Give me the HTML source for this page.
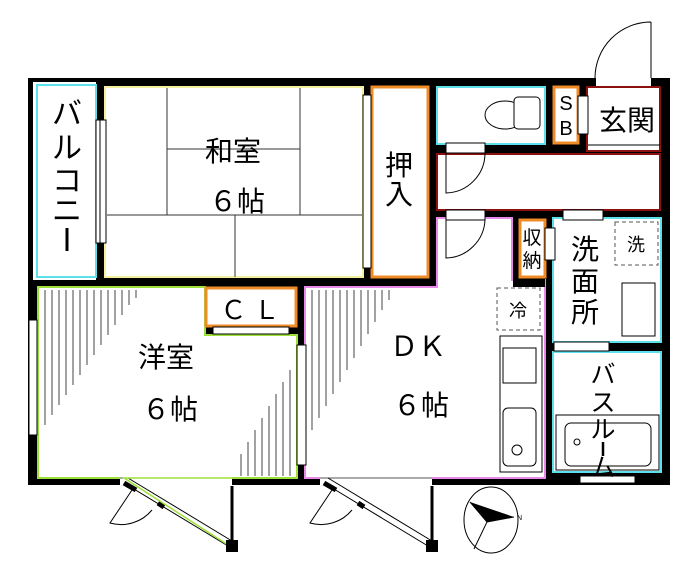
<!DOCTYPE html>
<html><head><meta charset="utf-8"><style>
html,body{margin:0;padding:0;background:#fff;width:700px;height:572px;overflow:hidden}
svg{display:block}
text{font-family:"Liberation Sans","Noto Sans CJK JP",sans-serif;fill:#000}
</style></head><body>
<svg width="700" height="572" viewBox="0 0 700 572" xmlns="http://www.w3.org/2000/svg">
<rect x="28" y="78" width="642" height="407" fill="#000"/>
<path d="M651 22 L651 78 M595 78 A56 56 0 0 1 651 22" fill="none" stroke="#000" stroke-width="1"/>
<rect x="596" y="78" width="55" height="8" fill="#fff"/>
<rect x="33" y="82" width="63" height="198" fill="#fff"/>
<rect x="37" y="85" width="59" height="192" fill="#fff" stroke="#5ee0ea" stroke-width="2"/>
<rect x="105" y="87" width="258" height="190" fill="#fff" stroke="#f3f0a0" stroke-width="2"/>
<g stroke="#333" stroke-width="1">
<line x1="167" y1="88" x2="167" y2="215"/><line x1="300" y1="88" x2="300" y2="215"/>
<line x1="167" y1="149" x2="300" y2="149"/><line x1="107" y1="215" x2="362" y2="215"/>
<line x1="235" y1="215" x2="235" y2="277"/></g>
<rect x="96" y="120" width="10" height="123" fill="#fff" stroke="#000"/>
<line x1="100" y1="120" x2="100" y2="243" stroke="#000"/>
<rect x="372" y="87" width="56" height="190" fill="#fff" stroke="#f08c28" stroke-width="3"/>
<rect x="363" y="95" width="8" height="173" fill="#fff" stroke="#000"/>
<rect x="437" y="87" width="108" height="57" fill="#fff" stroke="#5ee0ea" stroke-width="2"/>
<ellipse cx="505" cy="115" rx="20" ry="14" fill="#fff" stroke="#000"/>
<rect x="514" y="97" width="26" height="32" rx="4" fill="#fff" stroke="#000"/>
<rect x="554" y="87" width="24" height="56" fill="#fff" stroke="#f08c28" stroke-width="3"/>
<rect x="587" y="87" width="73" height="64" fill="#fff" stroke="#8b1010" stroke-width="2"/>
<line x1="588" y1="145" x2="660" y2="145" stroke="#000"/>
<rect x="578" y="96" width="10" height="38" fill="#fff" stroke="#000"/>
<rect x="437" y="154" width="223" height="56" fill="#fff" stroke="#8b1010" stroke-width="2"/>
<rect x="446" y="143" width="39" height="10" fill="#fff" stroke="#000"/>
<path d="M446 153 L446 193 A40 40 0 0 0 485 153" fill="none" stroke="#000"/>
<path d="M305 287 L437 287 L437 218 L512 218 L512 280 L545 280 L545 478 L305 478 Z" fill="#fff" stroke="#e88ae8" stroke-width="2"/>
<rect x="446" y="210" width="39" height="10" fill="#fff" stroke="#000"/>
<path d="M446 220 L446 258 A40 40 0 0 0 485 220" fill="none" stroke="#000"/>
<rect x="513" y="277" width="32" height="10" fill="#000"/>
<rect x="520" y="220" width="25" height="57" fill="#fff" stroke="#f08c28" stroke-width="3"/>
<rect x="553" y="218" width="108" height="124" fill="#fff" stroke="#5ee0ea" stroke-width="2"/>
<rect x="545" y="228" width="10" height="32" fill="#fff" stroke="#000"/>
<rect x="563" y="210" width="40" height="10" fill="#fff" stroke="#000"/>
<rect x="615" y="222" width="43" height="43" fill="none" stroke="#555" stroke-dasharray="4,3"/>
<rect x="622" y="283" width="33" height="53" fill="#fff" stroke="#000"/>
<rect x="553" y="352" width="108" height="120" fill="#fff" stroke="#5ee0ea" stroke-width="2"/>
<rect x="554" y="342" width="55" height="9" fill="#fff" stroke="#000"/>
<rect x="556" y="415" width="103" height="55" fill="#fff" stroke="#000"/>
<rect x="565" y="423" width="86" height="43" rx="6" fill="#fff" stroke="#000"/>
<circle cx="577" cy="442" r="3" fill="none" stroke="#000"/>
<rect x="580" y="476" width="55" height="7" fill="#fff" stroke="#000"/>
<rect x="497" y="288" width="43" height="42" fill="none" stroke="#555" stroke-dasharray="4,3"/>
<rect x="500" y="336" width="42" height="136" fill="#fff" stroke="#000"/>
<rect x="503" y="348" width="33" height="35" fill="#fff" stroke="#000"/>
<rect x="503" y="408" width="33" height="58" rx="5" fill="#fff" stroke="#000"/>
<circle cx="517" cy="450" r="5" fill="none" stroke="#000"/>
<path d="M38 287 L205 287 L205 335 L297 335 L297 478 L38 478 Z" fill="#fff" stroke="#9ee03a" stroke-width="2"/>
<rect x="206" y="288" width="90" height="38" fill="#fff" stroke="#f08c28" stroke-width="3"/>
<rect x="213" y="327" width="76" height="7" fill="#fff" stroke="#000"/>
<rect x="29" y="320" width="8" height="115" fill="#fff" stroke="#000"/>
<rect x="297" y="345" width="9" height="120" fill="#fff" stroke="#000"/>
<g stroke="#444" stroke-width="1">
<line x1="45" y1="290" x2="45" y2="425"/><line x1="52" y1="290" x2="52" y2="415"/><line x1="59" y1="290" x2="59" y2="405"/><line x1="66" y1="290" x2="66" y2="395"/><line x1="73" y1="290" x2="73" y2="385"/><line x1="80" y1="290" x2="80" y2="375"/><line x1="87" y1="290" x2="87" y2="365"/><line x1="94" y1="290" x2="94" y2="355"/><line x1="101" y1="290" x2="101" y2="345"/><line x1="108" y1="290" x2="108" y2="335"/><line x1="115" y1="290" x2="115" y2="325"/><line x1="122" y1="290" x2="122" y2="315"/><line x1="129" y1="290" x2="129" y2="305"/><line x1="136" y1="290" x2="136" y2="298"/>
<line x1="290" y1="476" x2="290" y2="370"/><line x1="283" y1="476" x2="283" y2="382"/><line x1="276" y1="476" x2="276" y2="394"/><line x1="269" y1="476" x2="269" y2="406"/><line x1="262" y1="476" x2="262" y2="418"/><line x1="255" y1="476" x2="255" y2="430"/><line x1="248" y1="476" x2="248" y2="442"/><line x1="241" y1="476" x2="241" y2="454"/>
<line x1="312" y1="290" x2="312" y2="430"/><line x1="319" y1="290" x2="319" y2="418"/><line x1="326" y1="290" x2="326" y2="406"/><line x1="333" y1="290" x2="333" y2="394"/><line x1="340" y1="290" x2="340" y2="382"/><line x1="347" y1="290" x2="347" y2="370"/><line x1="354" y1="290" x2="354" y2="358"/><line x1="361" y1="290" x2="361" y2="346"/><line x1="368" y1="290" x2="368" y2="334"/><line x1="375" y1="290" x2="375" y2="322"/><line x1="382" y1="290" x2="382" y2="310"/><line x1="389" y1="290" x2="389" y2="300"/>
</g>
<rect x="120" y="477" width="112" height="9" fill="#fff"/>
<rect x="320" y="477" width="112" height="9" fill="#fff"/>
<line x1="120" y1="478" x2="232" y2="478" stroke="#555"/>
<line x1="320" y1="478" x2="432" y2="478" stroke="#555"/>
<g stroke="#000" fill="none">
<path d="M124 483 L228 546 M128 478 L232 541" /><path d="M124 483 L136 490 M158 503 L164 507" stroke-width="5"/>
<path d="M324 483 L428 546 M328 478 L432 541"/><path d="M324 483 L336 490 M358 503 L364 507" stroke-width="5"/>
<path d="M132 490 L110 523 A40 40 0 0 0 152 510"/><path d="M332 490 L310 523 A40 40 0 0 0 352 510"/>
<line x1="232" y1="486" x2="232" y2="545" stroke-width="3"/><line x1="432" y1="486" x2="432" y2="545" stroke-width="3"/>
</g>
<path d="M232 478 L124 478 L228 545" fill="none" stroke="#9ee03a" stroke-width="1.5"/>
<rect x="226" y="540" width="12" height="12" fill="#000"/><rect x="426" y="540" width="12" height="12" fill="#000"/>
<ellipse cx="491" cy="520" rx="27" ry="33" fill="none" stroke="#000"/>
<path d="M470 502 L514 517 L487 522 Z" fill="#000"/>
<path d="M470 502 L487 522 L474 549 M487 522 L514 517" fill="none" stroke="#000"/>
<text x="517" y="520" font-size="7">N</text>
<text x="233" y="161" font-size="28" text-anchor="middle">和室</text>
<text x="237" y="211" font-size="28" text-anchor="middle">６帖</text>
<g font-size="30" text-anchor="middle"><text x="67" y="124">バ</text><text x="67" y="158">ル</text><text x="67" y="191">コ</text><text x="67" y="221">ニ</text></g>
<line x1="67" y1="228" x2="67" y2="251" stroke="#000" stroke-width="3"/>
<text x="399" y="175" font-size="28" text-anchor="middle">押</text><text x="399" y="204" font-size="28" text-anchor="middle">入</text>
<text x="566" y="110" font-size="20" text-anchor="middle">S</text><text x="566" y="135" font-size="20" text-anchor="middle">B</text>
<text x="627" y="130" font-size="28" text-anchor="middle">玄関</text>
<text x="532" y="244" font-size="19" text-anchor="middle">収</text><text x="532" y="267" font-size="19" text-anchor="middle">納</text>
<text x="585" y="259" font-size="28" text-anchor="middle">洗</text><text x="585" y="291" font-size="28" text-anchor="middle">面</text><text x="585" y="322" font-size="28" text-anchor="middle">所</text>
<text x="636" y="251" font-size="18" text-anchor="middle">洗</text>
<text x="518" y="317" font-size="18" text-anchor="middle">冷</text>
<text x="250" y="319" font-size="26" text-anchor="middle">Ｃ Ｌ</text>
<text x="166" y="367" font-size="28" text-anchor="middle">洋室</text>
<text x="170" y="419" font-size="28" text-anchor="middle">６帖</text>
<text x="418" y="356" font-size="28" text-anchor="middle">ＤＫ</text>
<text x="421" y="415" font-size="28" text-anchor="middle">６帖</text>
<g font-size="25" text-anchor="middle"><text x="603" y="383">バ</text><text x="603" y="411">ス</text><text x="603" y="438">ル</text><text x="603" y="476">ム</text></g>
<line x1="603" y1="442" x2="603" y2="456" stroke="#000" stroke-width="2.5"/>
</svg>
</body></html>
